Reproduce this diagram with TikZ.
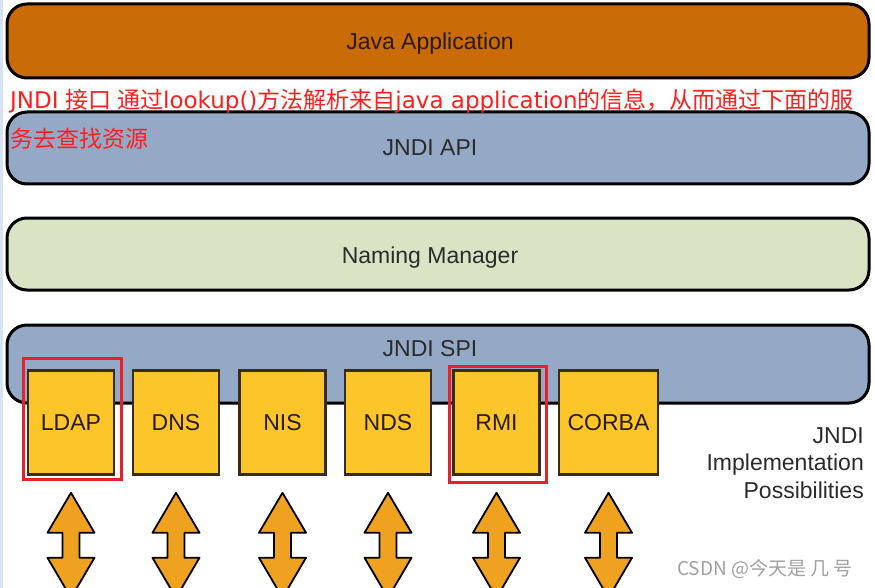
\documentclass[tikz,border=0pt]{standalone}
\usepackage{fontspec}
\setmainfont{Liberation Sans}
\newfontfamily\cjk{Noto Sans CJK SC}
\newfontfamily\latf{DejaVu Sans}
\usepackage{xcolor}
\usepackage{tikz}
\usetikzlibrary{calc,positioning}
\definecolor{javac}{HTML}{C96B06}
\definecolor{apic}{HTML}{94A9C5}
\definecolor{nmc}{HTML}{DAE3C3}
\definecolor{yelc}{HTML}{FCC62A}
\definecolor{arrc}{HTML}{EFA21F}
\definecolor{hlred}{HTML}{E8202A}
\definecolor{notec}{HTML}{FF1E1E}
\definecolor{labc}{HTML}{2B2B2B}
\definecolor{srvline}{HTML}{3A2C14}
\definecolor{srvtxt}{HTML}{2A1A08}
\definecolor{wmc}{HTML}{A0A0A0}
\definecolor{edgec}{HTML}{D5E3F2}
\tikzset{
  bar/.style={draw=black,line width=3pt,rounded corners=20pt,minimum width=862pt,minimum height=72pt,inner sep=0pt},
  lbl/.style={font=\fontsize{23}{27}\selectfont,text=labc,inner sep=0pt},
  srv/.style={draw=srvline,line width=2.5pt,fill=yelc,minimum width=86pt,minimum height=104pt,inner sep=0pt,font=\fontsize{23}{27}\selectfont,text=srvtxt},
  hl/.style={draw=hlred,line width=3pt,inner sep=0pt},
  dbl/.style={draw=black,line width=1.8pt,fill=arrc,line join=round}
}

\begin{document}
\begin{tikzpicture}[x=1pt,y=-1pt]
\useasboundingbox (0,0) rectangle (875,588);
\clip (0,0) rectangle (875,588);
\fill[edgec] (0,0) rectangle (3,588);
\node[bar,fill=javac,minimum height=74pt] (java) at (438,41) {};
\node[lbl,text=srvtxt] (javatxt) at (430,44) {Java Application};
\node[bar,fill=apic] (api) at (438,148) {};
\node[lbl] (apitxt) at (430,148) {JNDI API};
\node[bar,fill=nmc] (nm) at (438,254) {};
\node[lbl] (nmtxt) at (430,258) {Naming Manager};
\node[bar,fill=apic,minimum height=78pt] (spi) at (438,364) {};
\node[lbl] (spitxt) at (430,349) {JNDI SPI};
\node[srv] (ldap) at (71,422.5) {LDAP};
\node[srv,right=16.5pt of ldap] (dns) {DNS};
\node[srv,right=18pt of dns] (nis) {NIS};
\node[srv,right=17pt of nis] (nds) {NDS};
\node[srv,right=20pt of nds] (rmi) {RMI};
\node[srv,right=17pt of rmi,minimum width=99pt] (corba) {CORBA};
\node[hl,minimum width=98pt,minimum height=121pt] (hlldap) at (72,418.5) {};
\node[hl,minimum width=97pt,minimum height=116pt] (hlrmi) at (497.5,424) {};
\foreach \s in {ldap,dns,nis,nds,rmi,corba}
  \draw[dbl] ($(\s.south)+(0,17)$) -- ++(23.5,40) -- ++(-15,0) -- ++(0,25) -- ++(15,0)
    -- ++(-23.5,40) -- ++(-23.5,-40) -- ++(15,0) -- ++(0,-25) -- ++(-15,0) -- cycle;
\node[lbl,align=right,anchor=east,font=\fontsize{23}{27.5}\selectfont] (impl) at (864,463) {JNDI\\Implementation\\Possibilities};
\node[anchor=north west,inner sep=0pt,text=notec,font=\cjk\fontsize{23}{39}\selectfont,align=left] (note) at (10,89) {{\latf JNDI }接口 通过{\latf lookup()}方法解析来自{\latf java application}的信息，从而通过下面的服\\务去查找资源};
\node[anchor=base west,inner sep=0pt,text=wmc,font=\cjk\fontsize{19}{22}\selectfont] (wm) at (677,575) {CSDN @今天是 几 号};
\end{tikzpicture}
\end{document}
